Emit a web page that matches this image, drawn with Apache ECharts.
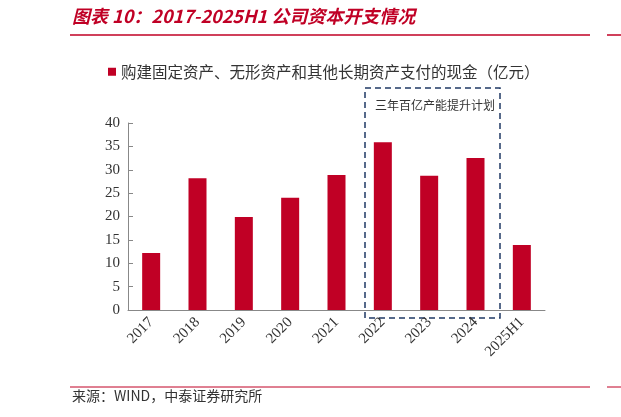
<!DOCTYPE html>
<html><head><meta charset="utf-8">
<script src="https://cdn.jsdelivr.net/npm/echarts@6/dist/echarts.min.js"></script>
<style>body{margin:0;background:#fff}#c{width:621px;height:417px}</style>
</head><body><div id="c"></div>
<script>
// 资本开支数据
var years = ['2017','2018','2019','2020','2021','2022','2023','2024','2025H1'];
var capex = [12.2, 28.2, 19.9, 24.0, 28.9, 35.9, 28.7, 32.5, 13.9];
var seriesName = '购建固定资产、无形资产和其他长期资产支付的现金（亿元）';

var chart = echarts.init(document.getElementById('c'));
var option = {
    animation: false,
    grid: { left: 128, right: 76, top: 123, bottom: 107 },
    legend: {
        data: [seriesName],
        left: 103, top: 59,
        itemWidth: 8, itemHeight: 8, itemGap: 5, icon: 'rect',
        textStyle: { fontSize: 15.5, color: '#333', fontFamily: 'Noto Sans CJK SC' }
    },
    xAxis: {
        type: 'category',
        data: years,
        axisLine: { lineStyle: { color: '#888' } },
        axisTick: { show: false },
        axisLabel: { rotate: 45, color: '#333', fontSize: 15, fontFamily: 'Liberation Serif', margin: 10 }
    },
    yAxis: {
        type: 'value', min: 0, max: 40, interval: 5,
        axisLine: { show: true, lineStyle: { color: '#888' } },
        axisTick: { show: true, inside: true, lineStyle: { color: '#888' } },
        splitLine: { show: false },
        axisLabel: { color: '#333', fontSize: 15, fontFamily: 'Liberation Serif' }
    },
    series: [{
        name: seriesName,
        type: 'bar',
        data: capex,
        barWidth: 18,
        itemStyle: { color: '#c00025' }
    }],
    graphic: [
        { type: 'text', left: 72, top: 7, style: { text: '图表 10：2017-2025H1 公司资本开支情况', fill: '#c00025', font: 'italic bold 18px "Noto Sans CJK SC"' } },
        { type: 'line', shape: { x1: 70, y1: 35, x2: 590, y2: 35 }, style: { stroke: '#c00025', lineWidth: 1.5 } },
        { type: 'line', shape: { x1: 607, y1: 35, x2: 621, y2: 35 }, style: { stroke: '#c00025', lineWidth: 1.5 } },
        { type: 'rect', shape: { x: 365, y: 88, width: 135, height: 230 }, style: { fill: 'none', stroke: '#1f3864', lineWidth: 1.5, lineDash: [6, 4] } },
        { type: 'text', left: 375, top: 99, style: { text: '三年百亿产能提升计划', fill: '#333', font: '12px "Noto Sans CJK SC"' } },
        { type: 'line', shape: { x1: 70, y1: 387, x2: 590, y2: 387 }, style: { stroke: '#c00025', lineWidth: 1 } },
        { type: 'line', shape: { x1: 607, y1: 387, x2: 621, y2: 387 }, style: { stroke: '#c00025', lineWidth: 1 } },
        { type: 'text', left: 72, top: 389, style: { text: '来源：WIND，中泰证券研究所', fill: '#333', font: '14px "Noto Sans CJK SC"' } }
    ]
};
chart.setOption(option);
</script>
</body></html>
